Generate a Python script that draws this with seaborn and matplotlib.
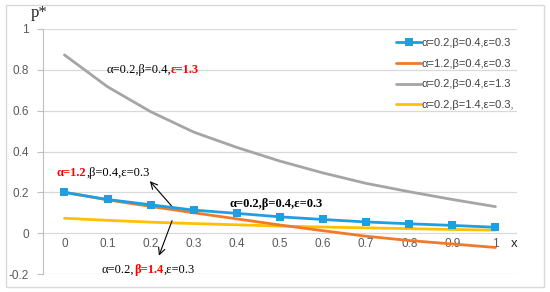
import numpy as np
import pandas as pd
import seaborn as sns
import matplotlib.pyplot as plt
from matplotlib.offsetbox import TextArea, HPacker, AnnotationBbox

x_vals = [0, 0.1, 0.2, 0.3, 0.4, 0.5, 0.6, 0.7, 0.8, 0.9, 1]
x_labels = ['0', '0.1', '0.2', '0.3', '0.4', '0.5', '0.6', '0.7', '0.8', '0.9', '1']
p_blue = [0.200, 0.165, 0.139, 0.113, 0.097, 0.080, 0.067, 0.055, 0.046, 0.038, 0.029]
p_orange = [0.200, 0.163, 0.131, 0.100, 0.070, 0.040, 0.012, -0.015, -0.036, -0.053, -0.070]
p_gray = [0.873, 0.717, 0.595, 0.495, 0.420, 0.353, 0.295, 0.244, 0.203, 0.165, 0.130]
p_yellow = [0.073, 0.063, 0.054, 0.047, 0.041, 0.035, 0.030, 0.026, 0.022, 0.018, 0.015]
series_names = ['α=0.2,β=0.4,ε=0.3', 'α=1.2,β=0.4,ε=0.3', 'α=0.2,β=0.4,ε=1.3', 'α=0.2,β=1.4,ε=0.3,']
y_ticks = [-0.2, 0, 0.2, 0.4, 0.6, 0.8, 1]
y_labels = ['-0.2', '0', '0.2', '0.4', '0.6', '0.8', '1']

colors = ['#1E9FE0', '#F07A2A', '#A5A5A5', '#FFC000']

sns.set_style('white')
plt.rcParams['font.family'] = ['Liberation Sans', 'DejaVu Sans']

fig = plt.figure(figsize=(5.5, 2.92), dpi=100)
ax = fig.add_axes([0.078, 0.0616, 0.862, 0.8391])

# outer chart border
fig.patches.append(plt.Rectangle((0.011, 0.017), 0.978, 0.966, transform=fig.transFigure,
                                 fill=False, edgecolor='#D9D9D9', linewidth=1.0))

for yt in y_ticks:
    ax.axhline(yt, color='#D9D9D9', linewidth=0.9, zorder=0)

all_series = [p_blue, p_orange, p_gray, p_yellow]
for vals, name, col in zip(all_series, series_names, colors):
    df = pd.DataFrame({'x': x_vals, 'p': vals})
    if col == colors[0]:
        sns.lineplot(data=df, x='x', y='p', ax=ax, color=col, linewidth=2.0, marker='s',
                     markersize=5.5, markeredgewidth=0, label=name, zorder=5)
    else:
        sns.lineplot(data=df, x='x', y='p', ax=ax, color=col, linewidth=2.0, label=name,
                     zorder=3 if col != colors[1] else 4)

ax.set_xlim(-0.05, 1.05)
ax.set_ylim(-0.2, 1)
ax.set_yticks(y_ticks)
ax.set_yticklabels(y_labels)
ax.set_xticks([])
ax.set_xlabel('')
ax.set_ylabel('')
for s in ['top', 'right', 'bottom']:
    ax.spines[s].set_visible(False)
ax.spines['left'].set_color('#BFBFBF')
ax.tick_params(axis='y', left=True, length=4, color='#BFBFBF', labelsize=8.5,
               labelcolor='#595959', pad=6)

# category labels sit below the zero line
for xv, lab in zip(x_vals, x_labels):
    ax.text(xv, -0.025, lab, ha='center', va='top', fontsize=8.5, color='#595959')
ax.text(1.035, -0.025, 'x', ha='left', va='top', fontsize=9.5, color='#262626')
fig.text(0.056, 0.955, 'p*', ha='left', va='center', fontsize=12,
         family=['Liberation Serif', 'DejaVu Serif'])

leg = ax.legend(loc='upper left', bbox_to_anchor=(0.735, 0.98), frameon=False,
                fontsize=8, handlelength=2.3, handletextpad=0.0, labelspacing=0.95,
                borderaxespad=0)
for t in leg.get_texts():
    t.set_color('#404040')


def rich(parts, xy, size=9):
    boxes = []
    for txt, col, bold in parts:
        boxes.append(TextArea(txt, textprops=dict(color=col, fontsize=size,
                                                  fontweight='bold' if bold else 'normal',
                                                  family=['Liberation Serif', 'DejaVu Serif'])))
    pack = HPacker(children=boxes, align='baseline', pad=0, sep=0)
    ab = AnnotationBbox(pack, xy, xycoords='data', frameon=False, box_alignment=(0.5, 0.5),
                        pad=0)
    ax.add_artist(ab)


rich([('α=0.2,β=0.4,', 'black', False), ('ε=1.3', 'red', True)], (0.205, 0.8))
rich([('α=1.2', 'red', True), (',β=0.4,ε=0.3', 'black', False)], (0.09, 0.294))
rich([('α=0.2,β=0.4,ε=0.3', 'black', True)], (0.49, 0.142))
rich([('α=0.2,', 'black', False), ('β=1.4', 'red', True), (',ε=0.3', 'black', False)], (0.195, -0.18))

ax.annotate('', xy=(0.194, 0.265), xytext=(0.261, 0.103),
            arrowprops=dict(arrowstyle='->', color='black', lw=0.8, mutation_scale=12))
ax.annotate('', xy=(0.217, -0.123), xytext=(0.252, 0.074),
            arrowprops=dict(arrowstyle='->', color='black', lw=0.8, mutation_scale=12))

fig.savefig('out.png', dpi=100)
